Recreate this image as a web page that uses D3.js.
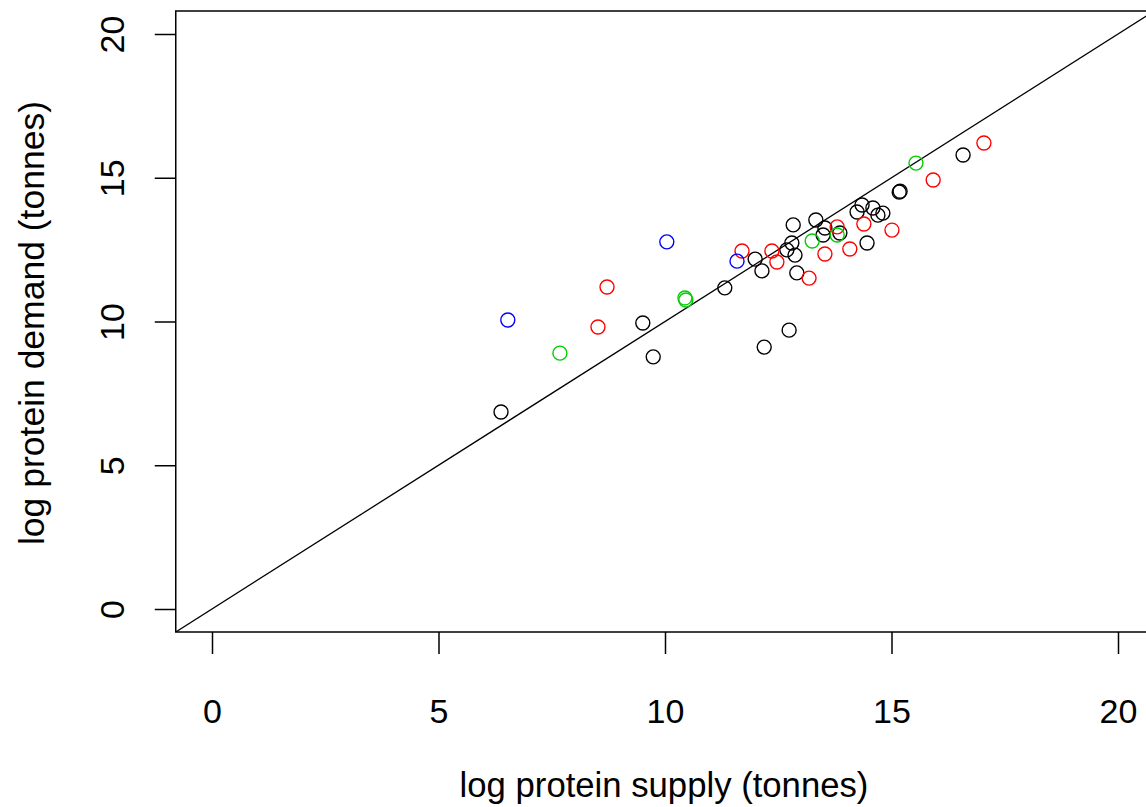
<!DOCTYPE html>
<html>
<head>
<meta charset="utf-8">
<script src="https://cdn.jsdelivr.net/npm/d3@7"></script>
<style>
  body { margin: 0; background: #fff; }
  text { font-family: "Liberation Sans", Arial, sans-serif; fill: #000; }
</style>
</head>
<body>
<div id="myChart"></div>
<script>
// supply (x) / demand (y), log tonnes, grouped by point colour
const blackSupply = [6.38, 9.51, 9.74, 11.32, 11.99, 12.14, 12.69, 12.8, 12.87, 12.83, 12.91, 13.33, 13.49, 13.53, 13.86, 14.46, 14.24, 14.35, 14.59, 14.7, 14.81, 15.17, 15.19, 16.58, 12.74, 12.19];
const blackDemand = [6.85, 9.95, 8.77, 11.17, 12.17, 11.76, 12.49, 12.73, 12.31, 13.36, 11.69, 13.53, 13.01, 13.25, 13.08, 12.73, 13.81, 14.05, 13.95, 13.7, 13.77, 14.5, 14.53, 15.79, 9.7, 9.11];
const redSupply = [8.72, 8.52, 11.7, 12.36, 12.47, 13.18, 13.53, 13.8, 14.08, 14.39, 15.01, 15.92, 17.04];
const redDemand = [11.2, 9.81, 12.45, 12.45, 12.07, 11.51, 12.35, 13.29, 12.52, 13.39, 13.18, 14.92, 16.21];
const greenSupply = [7.68, 10.44, 10.46, 13.25, 13.8, 15.54];
const greenDemand = [8.9, 10.82, 10.75, 12.8, 13.01, 15.51];
const blueSupply = [6.53, 10.04, 11.59];
const blueDemand = [10.05, 12.77, 12.1];

const xTicks = [0, 5, 10, 15, 20];
const yTicks = [0, 5, 10, 15, 20];

const groups = [
  { colour: "#000000", xs: blackSupply, ys: blackDemand },
  { colour: "#FF0000", xs: redSupply, ys: redDemand },
  { colour: "#00CD00", xs: greenSupply, ys: greenDemand },
  { colour: "#0000FF", xs: blueSupply, ys: blueDemand },
];

const W = 1146, H = 807;
// R style: axis range is data range padded by 4%
const x = d3.scaleLinear().domain([0, 20]).range([212, 1118]);
const y = d3.scaleLinear().domain([0, 20]).range([609, 34]);
const lo = -0.8, hi = 20.8;

const svg = d3.select("#myChart").append("svg")
  .attr("width", W)
  .attr("height", H);

svg.append("clipPath").attr("id", "plotArea")
  .append("rect")
  .attr("x", x(lo)).attr("y", y(hi))
  .attr("width", x(hi) - x(lo)).attr("height", y(lo) - y(hi));

const plot = svg.append("g").attr("clip-path", "url(#plotArea)");

// y = x reference line
plot.append("line")
  .attr("x1", x(lo)).attr("y1", y(lo))
  .attr("x2", x(hi)).attr("y2", y(hi))
  .attr("stroke", "#000")
  .attr("stroke-width", 1.3);

groups.forEach((g) => {
  plot.append("g").selectAll("circle")
    .data(g.xs.map((v, i) => [v, g.ys[i]]))
    .enter()
    .append("circle")
    .attr("cx", (d) => x(d[0]))
    .attr("cy", (d) => y(d[1]))
    .attr("r", 7)
    .attr("fill", "none")
    .attr("stroke", g.colour)
    .attr("stroke-width", 1.4);
});

// box
svg.append("rect")
  .attr("x", x(lo)).attr("y", y(hi))
  .attr("width", x(hi) - x(lo)).attr("height", y(lo) - y(hi))
  .attr("fill", "none")
  .attr("stroke", "#000")
  .attr("stroke-width", 1.5);

const xAxis = svg.append("g")
  .attr("transform", `translate(0, ${y(lo)})`)
  .call(d3.axisBottom(x).tickValues(xTicks).tickSize(22).tickPadding(45).tickFormat(d3.format("d")));
xAxis.select(".domain").remove();
xAxis.selectAll("line").attr("stroke-width", 1.5);
xAxis.selectAll("text").attr("font-size", 34).attr("font-family", "Liberation Sans, Arial, sans-serif");

const yAxis = svg.append("g")
  .attr("transform", `translate(${x(lo)}, 0)`)
  .call(d3.axisLeft(y).tickValues(yTicks).tickSize(21).tickFormat(d3.format("d")));
yAxis.select(".domain").remove();
yAxis.selectAll("line").attr("stroke-width", 1.5);
// labels sit parallel to the axis, as in base R graphics
yAxis.selectAll("text")
  .attr("font-size", 34)
  .attr("font-family", "Liberation Sans, Arial, sans-serif")
  .attr("x", 0).attr("y", 0).attr("dy", null)
  .attr("text-anchor", "middle")
  .attr("transform", `translate(${124 - x(lo)}, 0) rotate(-90)`);

svg.append("text")
  .attr("x", 664)
  .attr("y", 797)
  .attr("text-anchor", "middle")
  .attr("font-size", 34.7)
  .text("log protein supply (tonnes)");

svg.append("text")
  .attr("transform", `translate(44, 323) rotate(-90)`)
  .attr("text-anchor", "middle")
  .attr("font-size", 35.5)
  .text("log protein demand (tonnes)");
</script>
</body>
</html>
